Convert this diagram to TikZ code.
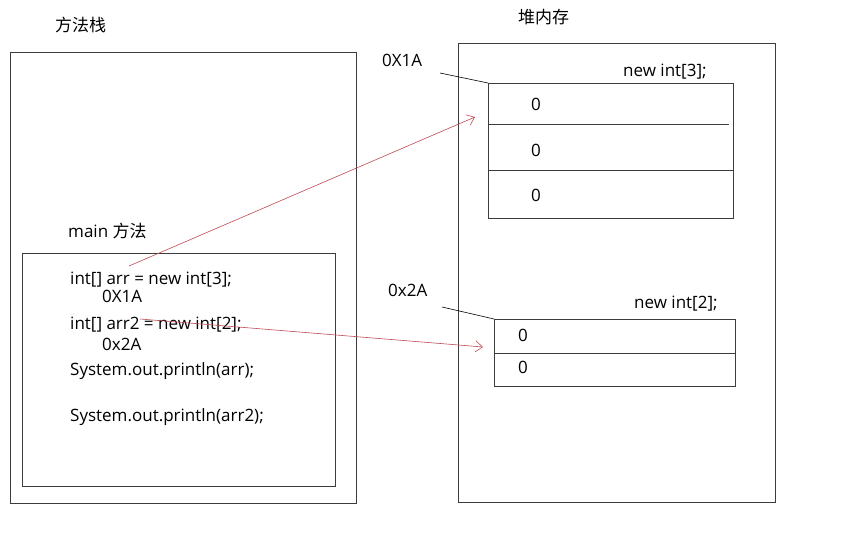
\documentclass[tikz,border=0pt]{standalone}
\usepackage{fontspec}
\setmainfont{Open Sans}
\newfontfamily\cjk{Noto Sans CJK SC}
\usetikzlibrary{arrows.meta}
\definecolor{redline}{RGB}{192,74,84}
\definecolor{boxline}{RGB}{60,60,60}
\begin{document}
\begin{tikzpicture}[x=1pt,y=-1pt,
  box/.style={draw=boxline,line width=0.8pt,inner sep=0,anchor=north west},
  txt/.style={inner sep=0,anchor=base west,font=\fontsize{17}{20}\selectfont},
  cjktxt/.style={inner sep=0,anchor=west,font=\fontsize{17}{20}\selectfont\cjk},
  refline/.style={draw=redline,line width=0.6pt,-{Straight Barb[length=7pt,width=11pt,line width=0.6pt]}},
  addrline/.style={draw=black,line width=0.6pt}]
\useasboundingbox[fill=white] (0,0) rectangle (863,537);
% stack
\node[box,minimum width=346pt,minimum height=451pt] (stack) at (10,52) {};
\node[cjktxt] (stacktitle) at (55,25) {方法栈};
\node[box,minimum width=313pt,minimum height=233pt] (mainbox) at (22,253) {};
\node[txt] (maintitle) at (68,238) {main {\cjk 方法}};
\node[txt] (l1) at (70,285) {int[] arr = new int[3];};
\node[txt] (l2) at (102,303) {0X1A};
\node[txt] (l3) at (70,330) {int[] arr2 = new int[2];};
\node[txt] (l4) at (102,351) {0x2A};
\node[txt] (l5) at (70,376) {System.out.println(arr);};
\node[txt] (l6) at (70,422) {System.out.println(arr2);};
% heap
\node[box,minimum width=317pt,minimum height=459pt] (heap) at (458,43) {};
\node[cjktxt] (heaptitle) at (518,17.5) {堆内存};
% array 1
\node[box,minimum width=245pt,minimum height=135pt] (arr1) at (488,83) {};
\draw[boxline,line width=0.8pt] (488,124) -- (729,124);
\draw[boxline,line width=0.8pt] (488,170) -- (733,170);
\node[txt] (a10) at (531,111) {0};
\node[txt] (a11) at (531,157) {0};
\node[txt] (a12) at (531,202) {0};
\node[txt] (arr1lbl) at (623,77) {new int[3];};
\node[txt] (addr1) at (382,67) {0X1A};
% array 2
\node[box,minimum width=241pt,minimum height=67pt] (arr2) at (494,319) {};
\draw[boxline,line width=0.8pt] (494,353) -- (735,353);
\node[txt] (a20) at (518,342) {0};
\node[txt] (a21) at (518,374) {0};
\node[txt] (arr2lbl) at (634,309) {new int[2];};
\node[txt] (addr2) at (388,297) {0x2A};
% address leader lines
\coordinate (addr1end) at (440,73);
\coordinate (addr2end) at (442,307);
\draw[addrline] (addr1end) -- (arr1.north west);
\draw[addrline] (addr2end) -- (arr2.north west);
% reference arrows
\coordinate (ref1s) at (129,266);
\coordinate (ref1e) at (475,117);
\coordinate (ref2s) at (140,319);
\coordinate (ref2e) at (483,347);
\draw[refline] (ref1s) -- (ref1e);
\draw[refline] (ref2s) -- (ref2e);
\end{tikzpicture}
\end{document}
